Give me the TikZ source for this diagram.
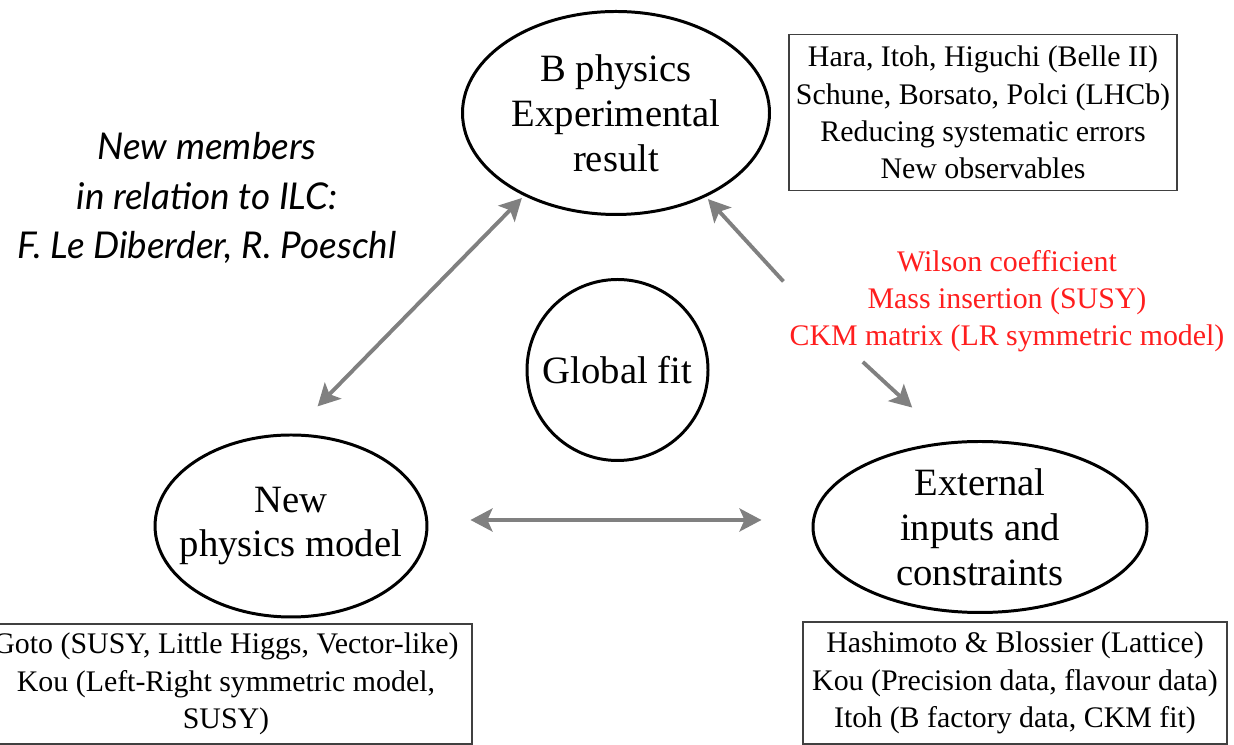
\documentclass[tikz,border=0pt]{standalone}
\usepackage{fontspec}
\setmainfont{Liberation Serif}
\newfontfamily\ilcfont{Lato}
\usetikzlibrary{shapes.geometric,arrows.meta}
\definecolor{arrowgray}{RGB}{128,128,128}
\definecolor{wilsonred}{RGB}{255,30,30}
\begin{document}
\begin{tikzpicture}[
        blob/.style={ellipse, draw=black, line width=1.7pt, align=center, inner sep=0pt, font=\fontsize{22}{25.5}\selectfont},
        who/.style={rectangle, draw=black!75, line width=0.8pt, align=center, inner sep=0pt, font=\fontsize{17}{21.2}\selectfont},
        edge/.style={->, line width=2.2pt, draw=arrowgray, >={Stealth[length=0.44cm, width=0.46cm, inset=0.1cm]}},
    ]
    \clip (0,0) rectangle (24.68,14.9);

    % Ellipses
    \node[blob, minimum width=6.14cm, minimum height=4.06cm] (bp) at (12.32,12.64) {B physics\\Experimental\\result};
    \node[blob, inner xsep=-0.3cm, minimum width=5.34cm, minimum height=3.64cm] (np) at (5.82,4.38) {New\\physics model};
    \node[blob, inner ysep=-0.1cm, minimum width=6.68cm, minimum height=3.42cm] (ext) at (19.6,4.36) {External\\inputs and\\constraints};
    \node[blob, circle, minimum size=3.62cm] (gf) at (12.35,7.5) {Global fit};

    % Boxes with names
    \node[who, minimum width=7.76cm, minimum height=3.12cm] (exp) at (19.66,12.65) {Hara, Itoh, Higuchi (Belle II)\\Schune, Borsato, Polci (LHCb)\\Reducing systematic errors\\New observables};
    \node[who, minimum width=9.84cm, minimum height=2.4cm] (thy) at (4.52,1.22) {Goto (SUSY, Little Higgs, Vector-like)\\Kou (Left-Right symmetric model,\\SUSY)};
    \node[who, minimum width=8.48cm, minimum height=2.44cm] (inp) at (20.3,1.24) {Hashimoto \& Blossier (Lattice)\\Kou (Precision data, flavour data)\\Itoh (B factory data, CKM fit)};

    % Red text
    \node[align=center, text=wilsonred, font=\fontsize{17}{21}\selectfont] (red) at (20.14,8.88) {Wilson coefficient\\Mass insertion (SUSY)\\CKM matrix (LR symmetric model)};

    % ILC members
    \node[align=center, font=\ilcfont\itshape\fontsize{21}{28.3}\selectfont] (ilc) at (4.14,10.94) {New members\\in relation to ILC:\\F. Le Diberder, R. Poeschl};

    % Arrows
    \draw[edge, <->, shorten <=0.76cm, shorten >=0.06cm] (np.north) -- (bp.222);
    \draw[edge, <->, shorten <=0.84cm, shorten >=1.0cm] ([yshift=0.12cm]np.east) -- ([yshift=0.12cm]np.east -| ext.west);
    \draw[edge, shorten >=0.06cm] (red.175) -- (bp.-43);
    \draw[edge, shorten <=0.12cm, shorten >=1.0cm] ([xshift=1.5cm]red.south west) -- (ext.110);

\end{tikzpicture}
\end{document}
